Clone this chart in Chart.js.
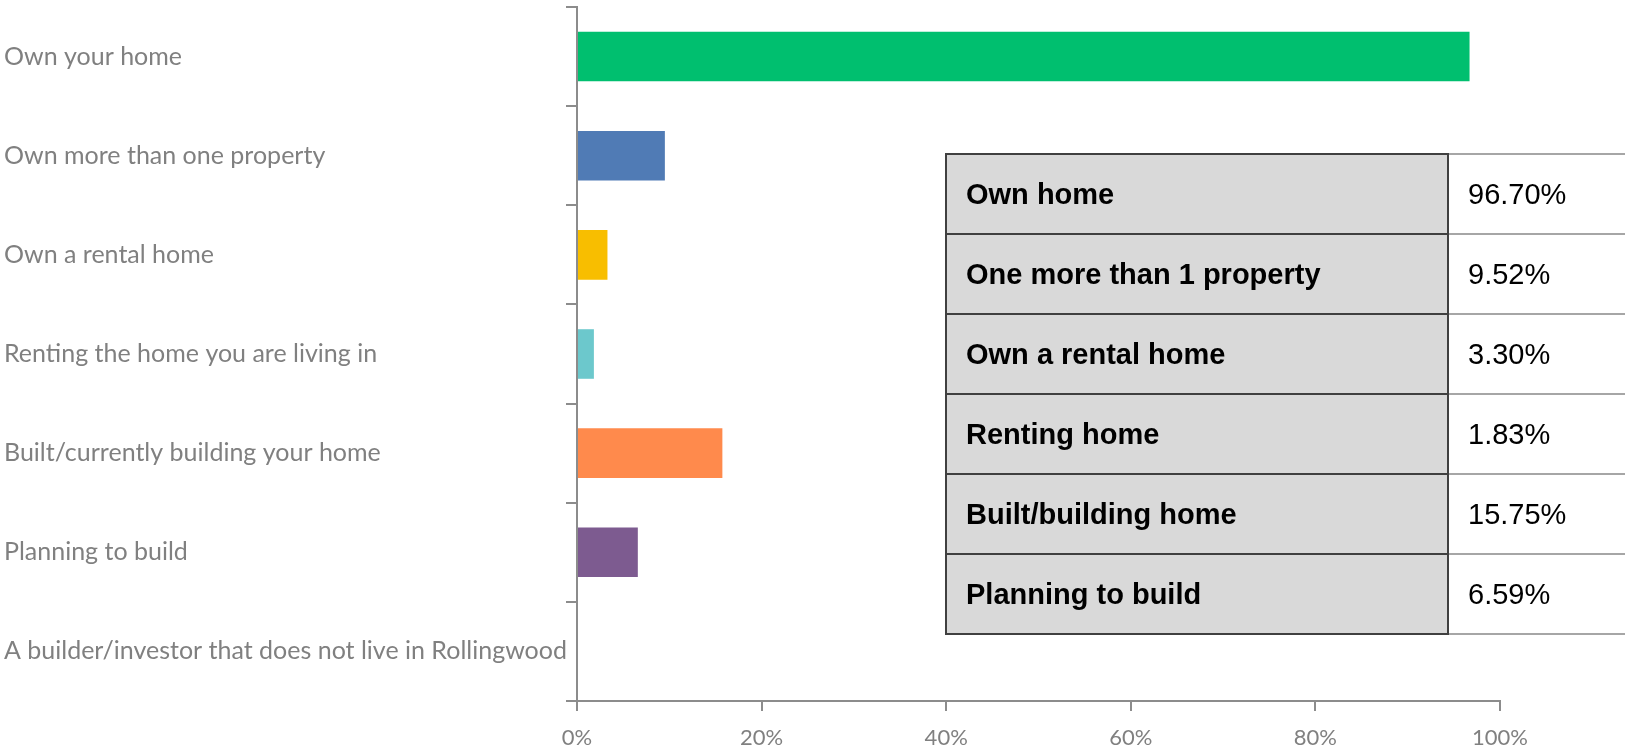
<!DOCTYPE html>
<html>
<head>
<meta charset="utf-8">
<script src="https://cdn.jsdelivr.net/npm/chart.js@4"></script>
<style>
  html, body { margin: 0; padding: 0; background: #fff; overflow: hidden; }
  #wrap { position: relative; width: 1625px; height: 745px; overflow: hidden; }
  #chart { position: absolute; left: 0; top: 0; }
  #summary {
    position: absolute; left: 945px; top: 153px;
    width: 762px; table-layout: fixed;
    border-collapse: collapse; font-family: "Liberation Sans", Arial, sans-serif;
    font-size: 29px; color: #000;
  }
  #summary td { height: 80px; padding: 0 0 0 19px; box-sizing: border-box; white-space: nowrap; }
  #summary td.name {
    width: 502px; background: #d9d9d9; font-weight: bold;
    border: 2px solid #404040;
  }
  #summary td.val {
    width: 260px; background: #fff;
    border-top: 2px solid #a6a6a6; border-bottom: 2px solid #a6a6a6;
  }
</style>
</head>
<body>
<div id="wrap">
  <canvas id="chart" width="1625" height="745"></canvas>
  <table id="summary"></table>
</div>
<script>
// survey answers (percent of respondents)
const categories = [
  'Own your home',
  'Own more than one property',
  'Own a rental home',
  'Renting the home you are living in',
  'Built/currently building your home',
  'Planning to build',
  'A builder/investor that does not live in Rollingwood'
];
const percents = [96.70, 9.52, 3.30, 1.83, 15.75, 6.59, 0];
const barColors = ['#00bf6f', '#507bb5', '#f8be00', '#6cc8cc', '#ff8a4c', '#7d5b90', '#a0a0a0'];
const xTicks = [0, 20, 40, 60, 80, 100];

// table beside the chart
const tableNames = ['Own home', 'One more than 1 property', 'Own a rental home',
  'Renting home', 'Built/building home', 'Planning to build'];
const tableValues = ['96.70%', '9.52%', '3.30%', '1.83%', '15.75%', '6.59%'];

const table = document.getElementById('summary');
table.innerHTML = tableNames.map((name, i) =>
  `<tr><td class="name">${name}</td><td class="val">${tableValues[i]}</td></tr>`
).join('');

const axisGrey = '#8c8c8c';
const labelGrey = '#808080';

new Chart(document.getElementById('chart'), {
  type: 'bar',
  data: {
    labels: categories,
    datasets: [{
      data: percents,
      backgroundColor: barColors,
      borderWidth: 0,
      categoryPercentage: 1,
      barPercentage: 0.5
    }]
  },
  options: {
    indexAxis: 'y',
    responsive: false,
    animation: false,
    layout: { padding: { left: 4, top: 7, right: 125, bottom: 0 } },
    plugins: {
      legend: { display: false },
      tooltip: { enabled: false }
    },
    scales: {
      x: {
        min: 0,
        max: 100,
        afterBuildTicks: (scale) => { scale.ticks = xTicks.map(v => ({ value: v })); },
        afterFit: (scale) => { scale.height = 44; },
        border: { color: axisGrey, width: 2 },
        grid: { drawOnChartArea: false, color: axisGrey, lineWidth: 2, tickLength: 10 },
        ticks: {
          color: labelGrey,
          font: { family: 'Lato', size: 22 },
          padding: 14,
          callback: (v) => v + '%'
        }
      },
      y: {
        afterFit: (scale) => {
          scale.width = 573;
          scale.paddingTop = 0;
          scale.paddingBottom = 0;
        },
        border: { color: axisGrey, width: 2 },
        grid: { drawOnChartArea: false, color: axisGrey, lineWidth: 2, tickLength: 11, offset: true },
        ticks: {
          color: labelGrey,
          crossAlign: 'far',
          font: { family: 'Lato', size: 25 }
        }
      }
    }
  }
});
</script>
</body>
</html>
